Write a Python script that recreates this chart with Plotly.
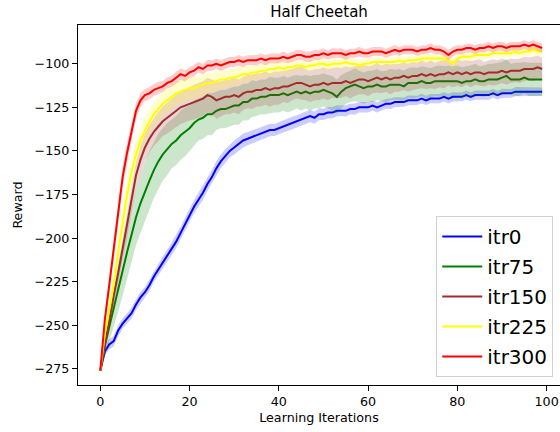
import plotly.graph_objects as go

iterations = list(range(100))

series_names = ["itr0", "itr75", "itr150", "itr225", "itr300"]
series_colors = ["#0000ff", "#008000", "#a52a2a", "#ffff00", "#ff0000"]
fill_colors = ["rgba(0,0,255,0.2)", "rgba(0,128,0,0.2)", "rgba(165,42,42,0.2)",
               "rgba(255,255,0,0.2)", "rgba(255,0,0,0.2)"]

itr0_mean = [-276, -265, -261, -259, -253, -249, -246, -243, -238, -234,
             -231, -227, -222, -218, -214, -210, -206, -202, -197, -192,
             -187, -182, -178, -174, -169, -165, -160, -156, -153, -150,
             -148, -146, -144, -143, -142, -141, -140, -139, -138, -138,
             -137, -136, -135, -134, -133, -132, -131, -130, -131, -129,
             -129, -128, -128, -127, -127, -127, -126, -126, -125, -125,
             -125, -124, -125, -124, -123, -123, -122, -122, -122, -121,
             -121, -121, -120, -121, -120, -120, -120, -119, -120, -119,
             -119, -119, -118, -119, -118, -118, -118, -118, -117, -118,
             -117, -117, -117, -116, -116, -116, -116, -116, -116, -116]
itr0_std = [0.5, 2.5, 3.0, 3.0, 3.2, 3.0, 3.0, 3.2, 3.0, 3.2,
            3.0, 3.4, 3.2, 3.4, 3.5, 3.4, 3.6, 3.8, 3.6, 3.8,
            4.0, 3.8, 4.0, 4.2, 4.0, 4.0, 4.2, 4.0, 4.0, 3.8,
            4.0, 3.8, 4.0, 3.8, 3.8, 3.6, 3.8, 3.6, 3.6, 3.5,
            3.6, 3.5, 3.4, 3.6, 3.5, 3.6, 3.8, 3.6, 3.4, 3.4,
            3.2, 3.4, 3.2, 3.2, 3.0, 3.2, 3.0, 3.2, 3.0, 3.0,
            3.0, 2.8, 3.0, 2.8, 2.8, 3.0, 2.8, 2.8, 2.6, 2.8,
            2.8, 2.6, 2.8, 2.6, 2.6, 2.8, 2.6, 2.6, 2.8, 2.6,
            2.6, 2.5, 2.6, 2.5, 2.6, 2.5, 2.5, 2.6, 2.5, 2.5,
            2.6, 2.5, 2.5, 2.6, 2.5, 2.5, 2.4, 2.5, 2.4, 2.4]

itr75_mean = [-276, -262, -251, -240, -229, -219, -208, -198, -188, -180,
              -173, -167, -161, -156, -152, -149, -146, -144, -141, -139,
              -137, -134, -132, -131, -129, -129, -127, -126, -126, -125,
              -124, -124, -122, -122, -120, -120, -119, -119, -118, -118,
              -118, -117, -118, -117, -116, -117, -116, -117, -116, -116,
              -115, -116, -117, -119, -116, -114, -113, -112, -113, -114,
              -113, -113, -112, -113, -113, -112, -112, -112, -113, -111,
              -111, -111, -110, -111, -111, -110, -110, -110, -110, -110,
              -110, -111, -110, -110, -109, -110, -110, -109, -109, -109,
              -108, -107, -109, -109, -109, -108, -109, -109, -109, -109]
itr75_std = [0.5, 6, 9, 11, 13, 14, 15, 16, 16, 17,
             17, 17, 16, 16, 15, 15, 14, 14, 14, 14,
             13, 13, 12, 12, 12, 12, 11, 11, 11, 11,
             11, 11, 10.5, 10.5, 10.5, 10, 10, 10, 10.5, 10,
             10, 10, 10, 10, 9.5, 10, 9.5, 10, 9.5, 9.5,
             9.5, 9.5, 10, 10, 9.5, 9, 9, 9.5, 9, 9,
             9, 9, 9, 8.5, 9, 9, 8.5, 9, 9, 8.5,
             9, 8.5, 8.5, 9, 8.5, 8.5, 9, 8.5, 9, 8.5,
             9, 9, 8.5, 9, 9, 8.5, 9, 9, 9, 9.5,
             9, 9.5, 9, 9.5, 9.5, 9, 9.5, 9.5, 9.5, 9.5]

itr150_mean = [-276, -261, -248, -233, -220, -206, -193, -178, -164, -155,
               -148, -143, -139, -136, -133, -131, -129, -127, -125, -124,
               -123, -122, -121, -120, -118, -119, -121, -120, -119, -119,
               -118, -119, -117, -116, -116, -115, -115, -114, -115, -114,
               -114, -113, -113, -112, -111, -111, -112, -113, -112, -112,
               -111, -112, -111, -111, -111, -110, -111, -110, -109, -109,
               -110, -109, -108, -109, -108, -109, -108, -108, -107, -108,
               -107, -107, -106, -107, -106, -107, -106, -106, -105, -106,
               -105, -106, -105, -106, -105, -105, -106, -105, -105, -105,
               -104, -105, -104, -104, -104, -103, -103, -103, -102, -103]
itr150_std = [0.5, 3, 4, 5, 6, 6, 7, 7, 8, 8,
              8, 8, 8, 8.5, 8.5, 9, 9, 9, 9.5, 9.5,
              9.5, 10, 10, 10, 10, 10, 10.5, 10, 10, 10,
              10, 10, 9.5, 9.5, 10, 9.5, 9.5, 9.5, 9.5, 9.5,
              9.5, 9, 9.5, 9, 9, 9.5, 9, 9, 9, 9,
              9, 9, 8.5, 9, 8.5, 8.5, 9, 8.5, 8.5, 8.5,
              8.5, 8, 8.5, 8, 8, 8.5, 8, 8, 8, 8,
              8, 7.5, 8, 7.5, 8, 7.5, 7.5, 8, 7.5, 7.5,
              7.5, 7.5, 7, 7.5, 7, 7.5, 7, 7, 7.5, 7,
              7, 7, 7, 6.5, 7, 7, 6.5, 7, 6.5, 6.5]

itr225_mean = [-276, -255, -241, -226, -208, -190, -175, -162, -152, -144,
               -138, -133, -129, -126, -123, -121, -119, -117, -116, -115,
               -114, -114, -113, -112, -111, -111, -110, -109, -109, -108,
               -108, -107, -106, -106, -105, -105, -104, -104, -103, -103,
               -102, -103, -102, -102, -101, -101, -102, -101, -101, -100,
               -100, -101, -100, -100, -100, -99, -100, -100, -101, -100,
               -100, -99, -99, -99, -99, -99, -99, -98, -99, -98,
               -98, -98, -97, -97, -97, -97, -97, -97, -98, -100,
               -97, -96, -96, -96, -95, -95, -95, -95, -94, -94,
               -94, -94, -94, -93, -94, -93, -93, -92, -93, -93]
itr225_std = [0.5, 3, 5, 6, 7, 8, 8, 8, 7.5, 7.5,
              7, 7, 7, 7, 7, 7, 7, 7, 6.5, 6.5,
              6.5, 6.5, 6, 6, 6, 5.5, 5.5, 5.5, 5, 5,
              5, 5, 4.5, 4.5, 4.5, 4, 4, 4, 4, 3.5,
              3.5, 3.5, 3.5, 3.5, 3, 3, 3, 3, 3, 3,
              3, 3, 3, 2.8, 2.8, 3, 2.8, 2.8, 3, 2.8,
              2.8, 2.6, 2.8, 2.6, 2.6, 2.8, 2.6, 2.6, 2.6, 2.5,
              2.6, 2.5, 2.6, 2.5, 2.5, 2.6, 2.5, 2.5, 2.6, 2.8,
              2.5, 2.5, 2.5, 2.4, 2.5, 2.4, 2.5, 2.4, 2.4, 2.5,
              2.4, 2.4, 2.5, 2.4, 2.4, 2.5, 2.4, 2.4, 2.4, 2.4]

itr300_mean = [-276, -247, -227, -207, -186, -165, -151, -139, -127, -121,
               -118, -117, -115, -114, -113, -111, -110, -108, -106, -107,
               -105, -104, -102, -103, -101, -101, -100, -101, -100, -99,
               -99, -98, -99, -98, -98, -98, -97, -98, -97, -97,
               -97, -96, -97, -96, -95, -95, -96, -96, -95, -95,
               -94, -95, -94, -94, -94, -95, -94, -94, -93, -94,
               -94, -93, -93, -93, -94, -93, -92, -93, -92, -92,
               -92, -93, -92, -92, -91, -92, -92, -93, -95, -93,
               -92, -92, -91, -91, -92, -91, -91, -90, -91, -90,
               -90, -91, -90, -90, -90, -89, -90, -89, -90, -91]
itr300_std = [0.5, 3, 5, 6, 6, 6, 5.5, 5, 4.5, 4,
              3.5, 3.5, 3.5, 3.5, 3.2, 3.2, 3.2, 3.5, 3.2, 3.2,
              3, 3.2, 3, 3, 3.2, 3, 3, 3.2, 3, 3,
              2.8, 3, 3, 2.8, 2.8, 3, 2.8, 3, 2.8, 2.8,
              2.8, 3, 2.8, 2.8, 3, 2.8, 2.8, 3, 2.8, 2.8,
              2.8, 2.6, 2.8, 2.6, 2.8, 2.8, 2.6, 2.6, 2.8, 2.6,
              2.6, 2.6, 2.8, 2.6, 2.6, 2.6, 2.8, 2.6, 2.6, 2.6,
              2.6, 2.6, 2.5, 2.6, 2.6, 2.5, 2.6, 2.8, 3, 2.8,
              2.6, 2.5, 2.6, 2.5, 2.6, 2.5, 2.6, 2.5, 2.6, 2.5,
              2.6, 2.5, 2.6, 2.5, 2.6, 2.5, 2.6, 2.5, 2.6, 2.6]

means = [itr0_mean, itr75_mean, itr150_mean, itr225_mean, itr300_mean]
stds = [itr0_std, itr75_std, itr150_std, itr225_std, itr300_std]

x_ticks = [0, 20, 40, 60, 80, 100]
y_ticks = [-275, -250, -225, -200, -175, -150, -125, -100]

fig = go.Figure()
for name, col, fcol, m, s in zip(series_names, series_colors, fill_colors, means, stds):
    lower = [a - b for a, b in zip(m, s)]
    upper = [a + b for a, b in zip(m, s)]
    fig.add_trace(go.Scatter(x=iterations, y=lower, mode="lines",
                             line=dict(width=0, color=col), showlegend=False,
                             hoverinfo="skip"))
    fig.add_trace(go.Scatter(x=iterations, y=upper, mode="lines",
                             line=dict(width=0, color=col), fill="tonexty",
                             fillcolor=fcol, showlegend=False, hoverinfo="skip"))
    fig.add_trace(go.Scatter(x=iterations, y=m, mode="lines", name=name,
                             legendgroup=name,
                             line=dict(width=2, color=col)))

font_family = "DejaVu Sans"
fig.update_layout(
    width=560, height=432,
    margin=dict(l=78, r=0, t=25, b=47),
    paper_bgcolor="white", plot_bgcolor="white",
    font=dict(family=font_family, size=12.7, color="black"),
    title=dict(text="Half Cheetah", x=0.5, xref="paper", xanchor="center",
               y=1 - 12 / 432, yanchor="middle",
               font=dict(family=font_family, size=15, color="black")),
    showlegend=True,
    legend=dict(x=0.986, y=0.022, xanchor="right", yanchor="bottom",
                bgcolor="rgba(255,255,255,0.8)", bordercolor="#d0d0d0",
                borderwidth=1, font=dict(family=font_family, size=20, color="black"),
                tracegroupgap=1, itemwidth=40),
)
fig.update_xaxes(range=[-5, 103.0], tickvals=x_ticks, showgrid=False, zeroline=False,
                 showline=True, linecolor="black", linewidth=1, mirror=True,
                 ticks="outside", ticklen=5, tickcolor="black",
                 title=dict(text="Learning Iterations", standoff=4,
                            font=dict(family=font_family, size=12.7)))
fig.update_yaxes(range=[-284.2, -77.8], tickvals=y_ticks, showgrid=False, zeroline=False,
                 showline=True, linecolor="black", linewidth=1, mirror=False,
                 ticks="outside", ticklen=5, tickcolor="black",
                 title=dict(text="Reward", standoff=9,
                            font=dict(family=font_family, size=12.7)))

fig.write_html("out.html", config={"displayModeBar": False},
               post_script="document.body.style.margin='0';document.body.style.overflow='hidden';")
